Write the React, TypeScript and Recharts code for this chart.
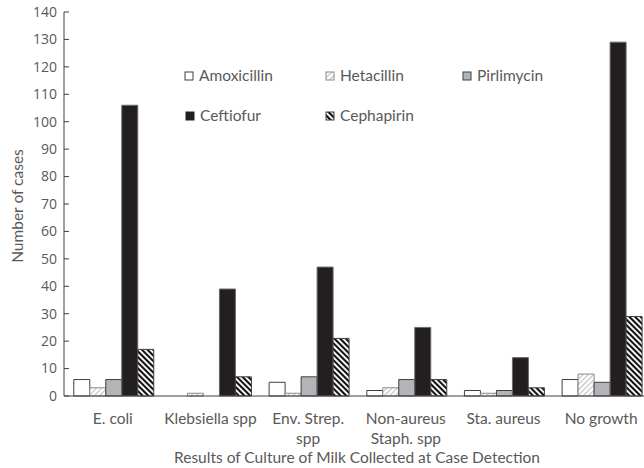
import React from "react";
import { BarChart, Bar, XAxis, YAxis, Legend } from "recharts";

const categories = ["E. coli", "Klebsiella spp", "Env. Strep.|spp", "Non-aureus|Staph. spp", "Sta. aureus", "No growth"];
const amoxicillin = [6, 0, 5, 2, 2, 6];
const hetacillin = [3, 1, 1, 3, 1, 8];
const pirlimycin = [6, 0, 7, 6, 2, 5];
const ceftiofur = [106, 39, 47, 25, 14, 129];
const cephapirin = [17, 7, 21, 6, 3, 29];
const yTicks = [0, 10, 20, 30, 40, 50, 60, 70, 80, 90, 100, 110, 120, 130, 140];

const data = categories.map((c, i) => ({
  name: c,
  Amoxicillin: amoxicillin[i],
  Hetacillin: hetacillin[i],
  Pirlimycin: pirlimycin[i],
  Ceftiofur: ceftiofur[i],
  Cephapirin: cephapirin[i],
}));

const FONT = "Lato, 'Open Sans', sans-serif";
const NUMFONT = "'Open Sans', Lato, sans-serif";
const FS = 15.5;
const TXT = "#595959";

const series = [
  { key: "Amoxicillin", fill: "#ffffff", stroke: "#404040" },
  { key: "Hetacillin", fill: "url(#hetaPat)", stroke: "#8a8a8a" },
  { key: "Pirlimycin", fill: "#b3b4b7", stroke: "#404040" },
  { key: "Ceftiofur", fill: "#231f20", stroke: "#6a6a6a" },
  { key: "Cephapirin", fill: "url(#cephPat)", stroke: "#404040" },
];

const legendPos: Record<string, [number, number]> = {
  Amoxicillin: [185, 76],
  Hetacillin: [326, 76],
  Pirlimycin: [463, 76],
  Ceftiofur: [186, 116],
  Cephapirin: [326, 116],
};

const renderLegend = () => (
  <svg width={644} height={150} style={{ position: "absolute", left: 0, top: 0, overflow: "visible" }}>
    {series.map((s) => {
      const [x, y] = legendPos[s.key];
      return (
        <g key={s.key}>
          <rect x={x} y={y - 4} width={8} height={8} fill={s.fill} stroke={s.key === "Ceftiofur" ? "#231f20" : s.stroke} strokeWidth={1} />
          <text x={x + 14} y={y} dy="0.35em" fontFamily={FONT} fontSize={FS} fill={TXT}>
            {s.key}
          </text>
        </g>
      );
    })}
  </svg>
);

const YTick = (props: any) => {
  const { x, y, payload } = props;
  return (
    <g>
      <line x1={x} x2={x + 5} y1={y} y2={y} stroke="#404040" strokeWidth={1} />
      <text x={x - 7} y={y} dy="0.35em" textAnchor="end" fontFamily={NUMFONT} fontSize={14} fill={TXT}>
        {payload.value}
      </text>
    </g>
  );
};

const XTick = (props: any) => {
  const { x, y, payload } = props;
  const lines = String(payload.value).split("|");
  return (
    <g>
      {lines.map((l, i) => (
        <text key={i} x={x} y={y + 28 + i * 20} textAnchor="middle" fontFamily={FONT} fontSize={FS} fill={TXT}>
          {l}
        </text>
      ))}
    </g>
  );
};

export default function App() {
  return (
    <div style={{ position: "absolute", left: 0, top: 0, width: 644, height: 468, overflow: "hidden", background: "#fff" }}>
      <BarChart
        width={650}
        height={468}
        data={data}
        margin={{ top: 12, right: 0, left: 0, bottom: 0 }}
        barCategoryGap="10%"
        barGap={0}
      >
        <defs>
          <pattern id="hetaPat" patternUnits="userSpaceOnUse" width={3.8} height={3.8} patternTransform="rotate(45)">
            <rect x={0} y={0} width={3.8} height={3.8} fill="#ffffff" />
            <rect x={0} y={0} width={1.2} height={3.8} fill="#c4c4c4" />
          </pattern>
          <pattern id="cephPat" patternUnits="userSpaceOnUse" width={4} height={4} patternTransform="rotate(-45)">
            <rect x={0} y={0} width={4} height={4} fill="#ffffff" />
            <rect x={0} y={0} width={2.1} height={4} fill="#111111" />
          </pattern>
        </defs>
        <XAxis
          dataKey="name"
          height={72}
          tickLine={false}
          tickSize={0}
          tickMargin={0}
          axisLine={{ stroke: "#404040" }}
          tick={<XTick />}
          interval={0}
          label={{
            value: "Results of Culture of Milk Collected at Case Detection",
            position: "insideBottom",
            offset: 5,
            fontFamily: FONT,
            fontSize: FS,
            fill: TXT,
          }}
        />
        <YAxis
          width={64}
          domain={[0, 140]}
          ticks={yTicks}
          interval={0}
          tickLine={false}
          tickSize={0}
          tickMargin={0}
          axisLine={{ stroke: "#404040" }}
          tick={<YTick />}
          label={{
            content: () => (
              <text
                x={18}
                y={206}
                transform="rotate(-90, 18, 206)"
                textAnchor="middle"
                dy="0.35em"
                fontFamily={FONT}
                fontSize={FS}
                fill={TXT}
              >
                Number of cases
              </text>
            ),
          }}
        />
        <Legend
          verticalAlign="top"
          content={renderLegend}
          wrapperStyle={{ position: "absolute", left: 0, top: 0, width: 644, height: 0, overflow: "visible" }}
        />
        {series.map((s) => (
          <Bar
            key={s.key}
            dataKey={s.key}
            fill={s.fill}
            stroke={s.stroke}
            strokeWidth={1}
            isAnimationActive={false}
          />
        ))}
      </BarChart>
    </div>
  );
}
